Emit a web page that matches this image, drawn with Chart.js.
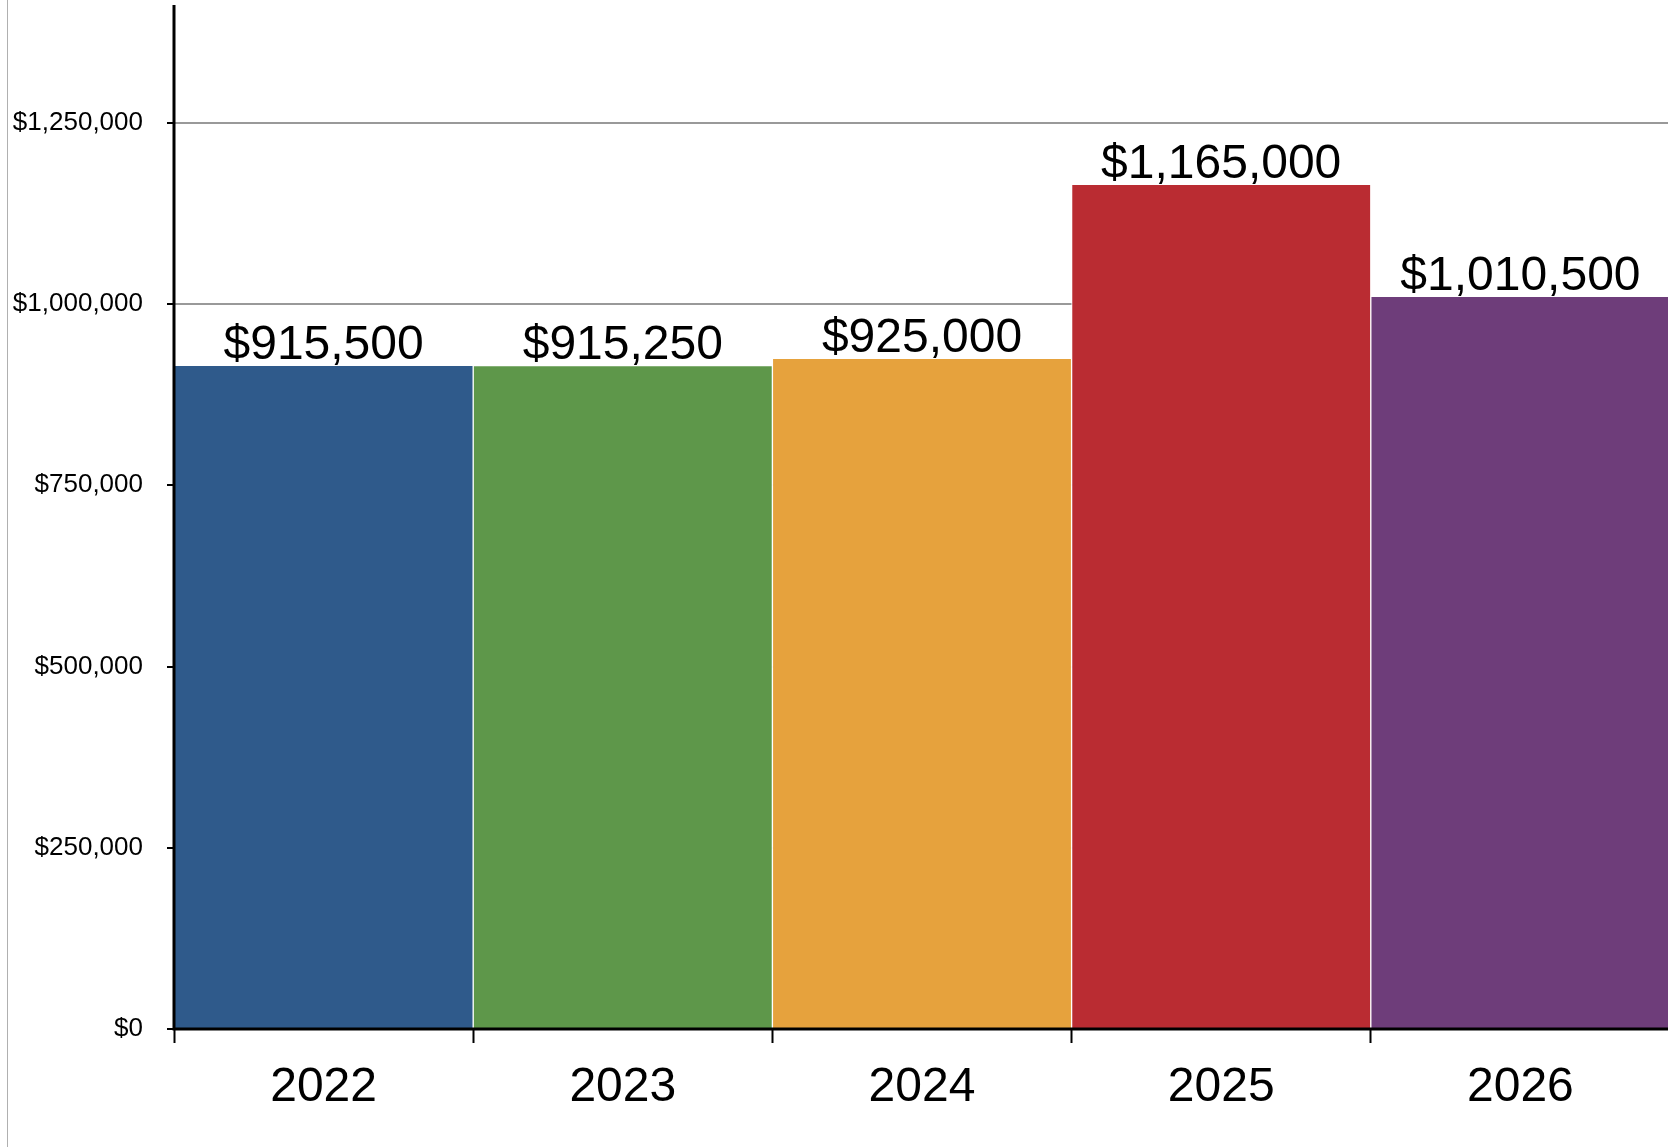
<!DOCTYPE html>
<html>
<head>
<meta charset="utf-8">
<script src="https://cdn.jsdelivr.net/npm/chart.js@4"></script>
<style>
  html, body { margin: 0; padding: 0; background: #fff; overflow: hidden; }
  #wrap { position: relative; width: 1670px; height: 1147px; }
  #edge { position: absolute; left: 7px; top: 0; width: 1px; height: 1147px; background: #b0b0b0; }
</style>
</head>
<body>
<div id="wrap">
  <canvas id="chart"></canvas>
  <div id="edge"></div>
</div>
<script>
// Données du graphique
const years = ['2022', '2023', '2024', '2025', '2026'];
const prices = [915500, 915250, 925000, 1165000, 1010500];
const barColors = ['#2F5A8B', '#5E974A', '#E6A23D', '#BA2C32', '#6E3D7A'];
const yTicks = [0, 250000, 500000, 750000, 1000000, 1250000];
const yMax = 1412500;

const fontFamily = '"Liberation Sans", Arial, sans-serif';

function money(v) {
    return '$' + Number(v).toLocaleString('en-US');
}

// Étiquettes de valeur au-dessus des barres + axes redessinés par-dessus les barres
const overlay = {
    id: 'overlay',
    afterDatasetsDraw(chart) {
        const ctx = chart.ctx;
        const area = chart.chartArea;
        const meta = chart.getDatasetMeta(0);
        ctx.save();
        ctx.strokeStyle = '#000';
        ctx.lineWidth = 3;
        ctx.beginPath();
        ctx.moveTo(area.left, area.top);
        ctx.lineTo(area.left, area.bottom);
        ctx.lineTo(area.right, area.bottom);
        ctx.stroke();

        ctx.font = '48px ' + fontFamily;
        ctx.fillStyle = '#000';
        ctx.textAlign = 'center';
        ctx.textBaseline = 'alphabetic';
        meta.data.forEach((bar, i) => {
            ctx.fillText(money(prices[i]), bar.x, bar.y - 6);
        });
        ctx.restore();
    }
};

const ctx = document.getElementById('chart').getContext('2d');
new Chart(ctx, {
    type: 'bar',
    data: {
        labels: years,
        datasets: [{
            data: prices,
            backgroundColor: barColors,
            borderColor: '#ffffff',
            borderWidth: 1,
            barPercentage: 1,
            categoryPercentage: 1
        }]
    },
    options: {
        responsive: true,
        maintainAspectRatio: false,
        animation: false,
        layout: { padding: { top: 5, left: 0, right: 0, bottom: 0 } },
        plugins: {
            legend: { display: false },
            tooltip: { enabled: false }
        },
        scales: {
            x: {
                grid: {
                    display: true,
                    drawOnChartArea: false,
                    tickLength: 14,
                    tickColor: '#000',
                    tickWidth: 2
                },
                border: { display: false },
                ticks: {
                    color: '#000',
                    font: { family: fontFamily, size: 48 },
                    padding: 16
                },
                afterFit(scale) { scale.height = 118; }
            },
            y: {
                min: 0,
                max: yMax,
                grid: {
                    color: '#999999',
                    lineWidth: 2,
                    tickLength: 7,
                    tickColor: '#000',
                    tickWidth: 2
                },
                border: { display: false },
                ticks: {
                    autoSkip: false,
                    color: '#000',
                    font: { family: fontFamily, size: 26 },
                    padding: 24,
                    callback: (v) => money(v)
                },
                // on impose les graduations
                afterBuildTicks(scale) {
                    scale.ticks = yTicks.map(v => ({ value: v }));
                },
                afterFit(scale) {
                    scale.width = 174;
                    scale.paddingTop = 0;
                    scale.paddingBottom = 0;
                }
            }
        }
    },
    plugins: [overlay]
});
</script>
</body>
</html>
